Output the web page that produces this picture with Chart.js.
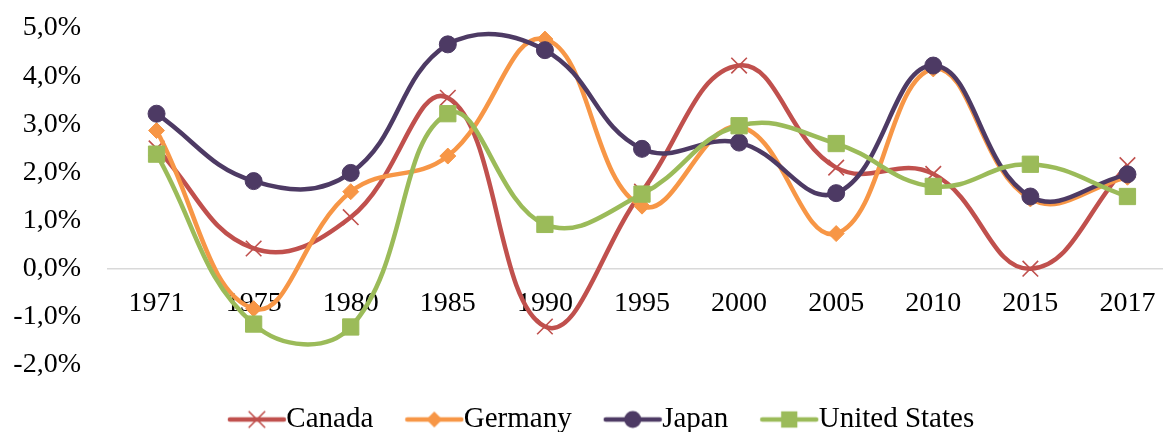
<!DOCTYPE html>
<html>
<head>
<meta charset="utf-8">
<script src="https://cdn.jsdelivr.net/npm/chart.js@4.4.1/dist/chart.umd.min.js"></script>
<style>
  html, body { margin: 0; padding: 0; background: #ffffff; overflow: hidden; }
  #c { display: block; }
</style>
</head>
<body>
<canvas id="c" width="1176" height="444" style="width:1176px;height:444px"></canvas>
<script>
const categories = ['1971', '1975', '1980', '1985', '1990', '1995', '2000', '2005', '2010', '2015', '2017'];
const canada = [2.5, 0.42, 1.07, 3.55, -1.2, 1.6, 4.22, 2.1, 1.97, 0.0, 2.15];
const germany = [2.87, -0.83, 1.6, 2.34, 4.77, 1.3, 2.95, 0.73, 4.15, 1.45, 1.9];
const japan = [3.22, 1.82, 1.99, 4.66, 4.54, 2.49, 2.62, 1.57, 4.22, 1.5, 1.96];
const unitedStates = [2.38, -1.15, -1.21, 3.22, 0.92, 1.55, 2.97, 2.6, 1.71, 2.17, 1.5];
const seriesNames = ['Canada', 'Germany', 'Japan', 'United States'];
const yTicks = { min: -2, max: 5, step: 1 };

const FONT = "'Liberation Serif', 'Times New Roman', serif";
const colors = ['#C0504D', '#F79646', '#4D3A64', '#9BBB59'];
const styles = ['crossRot', 'rectRot', 'circle', 'rect'];
const radii = [11, 8, 8.5, 11.5];
const pbw = [1.6, 1, 1, 1];
const LW = 4.5;

function legendImage(i) {
  const cv = document.createElement('canvas');
  cv.width = 80; cv.height = 24;
  const ctx = cv.getContext('2d');
  ctx.strokeStyle = colors[i];
  ctx.lineWidth = LW;
  ctx.lineCap = 'round';
  ctx.beginPath(); ctx.moveTo(20, 12); ctx.lineTo(74, 12); ctx.stroke();
  ctx.fillStyle = colors[i];
  ctx.strokeStyle = colors[i];
  ctx.lineWidth = pbw[i];
  ctx.beginPath();
  const s = styles[i], r = radii[i], x = 47, y = 12;
  if (s === 'circle') { ctx.arc(x, y, r, 0, Math.PI * 2); ctx.fill(); }
  else if (s === 'rect') { const h = r * Math.SQRT1_2; ctx.fillRect(x - h, y - h, 2 * h, 2 * h); }
  else if (s === 'rectRot') { ctx.moveTo(x - r, y); ctx.lineTo(x, y - r); ctx.lineTo(x + r, y); ctx.lineTo(x, y + r); ctx.closePath(); ctx.fill(); }
  else { const h = r * Math.SQRT1_2; ctx.moveTo(x - h, y - h); ctx.lineTo(x + h, y + h); ctx.moveTo(x + h, y - h); ctx.lineTo(x - h, y + h); ctx.stroke(); }
  return cv;
}

const seriesData = [canada, germany, japan, unitedStates];
const datasets = seriesData.map((d, i) => ({
  label: seriesNames[i],
  data: d,
  borderColor: colors[i],
  backgroundColor: colors[i],
  borderWidth: LW,
  pointStyle: styles[i],
  pointRadius: radii[i],
  pointHoverRadius: radii[i],
  pointBorderWidth: pbw[i],
  pointBackgroundColor: colors[i],
  pointBorderColor: colors[i],
  tension: 0.42,
  fill: false,
  clip: false,
  order: 4 - i
}));

const shiftLegend = {
  id: 'shiftLegend',
  afterLayout(chart) {
    if (chart.legend) { chart.legend.left = 26; chart.legend.right = 1176; }
  }
};

new Chart(document.getElementById('c'), {
  type: 'line',
  data: { labels: categories, datasets: datasets },
  plugins: [shiftLegend],
  options: {
    responsive: false,
    animation: false,
    events: [],
    devicePixelRatio: 1,
    layout: { autoPadding: false, padding: { left: 0, top: 28, right: 0, bottom: 0 } },
    scales: {
      x: {
        type: 'category',
        offset: true,
        position: { y: 0 },
        grid: { color: 'rgba(0,0,0,0)', drawTicks: false },
        border: { display: true, color: '#d9d9d9', width: 1.5 },
        ticks: { color: '#000', font: { family: FONT, size: 28 }, padding: 18, maxRotation: 0, autoSkip: false },
        afterFit: s => { s.paddingLeft = 0; s.paddingRight = 0; s.paddingTop = 0; s.paddingBottom = 0; }
      },
      y: {
        position: 'left',
        min: yTicks.min,
        max: yTicks.max,
        grid: { display: false, drawTicks: false },
        border: { display: false },
        ticks: {
          stepSize: yTicks.step,
          color: '#000',
          font: { family: FONT, size: 28 },
          padding: 27,
          callback: v => v.toFixed(1).replace('.', ',') + '%'
        },
        afterFit: s => { s.width = 108; s.paddingTop = 0; s.paddingBottom = 0; }
      }
    },
    plugins: {
      tooltip: { enabled: false },
      title: { display: false },
      legend: {
        display: true,
        position: 'bottom',
        title: { display: true, text: ' ', font: { size: 5 }, padding: { top: 1, bottom: 1 } },
        labels: {
          usePointStyle: true,
          pointStyleWidth: 44,
          padding: 32,
          color: '#000',
          font: { family: FONT, size: 29 },
          generateLabels: chart => chart.data.datasets.map((ds, i) => ({
            text: ds.label,
            pointStyle: legendImage(i),
            fillStyle: colors[i],
            strokeStyle: colors[i],
            lineWidth: 0,
            hidden: false,
            datasetIndex: i,
            fontColor: '#000'
          }))
        }
      }
    }
  }
});
</script>
</body>
</html>
